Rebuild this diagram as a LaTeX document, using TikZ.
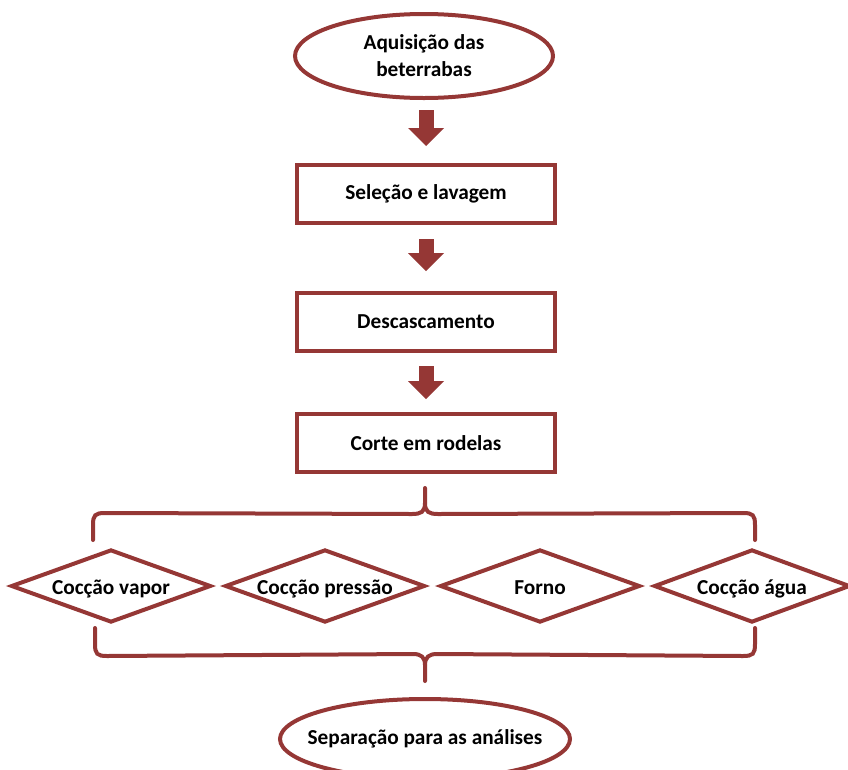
\documentclass[tikz,border=0pt]{standalone}
\usepackage{fontspec}
\setmainfont{Carlito}
\usetikzlibrary{shapes.geometric,arrows.meta,calc}
\definecolor{brd}{RGB}{149,55,53}
\begin{document}
\begin{tikzpicture}[x=1pt,y=-1pt,
  every node/.style={font=\fontsize{21.3}{27}\selectfont\bfseries, text=black},
  ellbox/.style={draw=brd, line width=4pt, ellipse, inner sep=0pt, align=center},
  stepbox/.style={draw=brd, line width=4pt, rectangle, minimum width=258pt, minimum height=58pt, inner sep=0pt},
  dmd/.style={draw=brd, line width=4pt, diamond, shape aspect=2.74, inner sep=0pt, text height=16pt, text depth=0pt, minimum width=200pt, minimum height=73pt},
  blockarrow/.style={draw=brd, line width=15pt, -{Triangle[width=36pt,length=18pt,line width=0pt 0]}},
  bracel/.style={draw=brd, line width=4pt, line cap=round}
]
\useasboundingbox (0,0) rectangle (848,769);
\node[ellbox, minimum width=258pt, minimum height=84pt] (e1) at (424,56) {Aquisição das\\beterrabas};
\node[stepbox] (b1) at (426,194) {Seleção e lavagem};
\node[stepbox] (b2) at (426,322) {Descascamento};
\node[stepbox] (b3) at (426,443) {Corte em rodelas};
\node[dmd] (d1) at (111,586) {Cocção vapor};
\node[dmd] (d2) at (325,586) {Cocção pressão};
\node[dmd] (d3) at (540,586) {Forno};
\node[dmd, minimum width=196pt] (d4) at (752,586) {Cocção água};
\node[ellbox, inner xsep=-30pt, text height=12pt, text depth=2pt, minimum width=290pt, minimum height=80pt] (e2) at (425,739) {Separação para as análises};

\draw[blockarrow, shorten <=10pt, shorten >=17pt] (e1.south -| b1.north) -- (b1.north);
\draw[blockarrow, shorten <=14pt, shorten >=20pt] (b1.south) -- (b2.north);
\draw[blockarrow, shorten <=13pt, shorten >=13pt] (b2.south) -- (b3.north);

% top brace
\coordinate (tt) at ($(b3.south)+(-1,14)$);
\coordinate (tl) at (93,540);
\coordinate (tr) at (755,540);
\draw[bracel] (tl) -- ++(0,-15) .. controls ++(0,-10) and ++(-10,0) .. ++(12,-12) -- ($(tt)+(-13,26)$) .. controls ++(9,0) and ++(0,9) .. ($(tt)+(0,15)$) -- (tt);
\draw[bracel] ($(tt)+(0,15)$) .. controls ++(0,9) and ++(-9,0) .. ($(tt)+(13,26)$) -- ($(tr)+(-12,-27)$) .. controls ++(10,0) and ++(0,-10) .. ($(tr)+(0,-15)$) -- (tr);

% bottom brace
\coordinate (bt) at ($(e2.north)+(0,-16)$);
\coordinate (bl) at (95,628);
\coordinate (br) at (755,628);
\draw[bracel] (bl) -- ++(0,16) .. controls ++(0,10) and ++(-10,0) .. ++(12,12) -- ($(bt)+(-12,-27)$) .. controls ++(8,0) and ++(0,-8) .. ($(bt)+(0,-16)$) -- (bt);
\draw[bracel] ($(bt)+(0,-16)$) .. controls ++(0,-8) and ++(-8,0) .. ($(bt)+(12,-27)$) -- ($(br)+(-12,28)$) .. controls ++(10,0) and ++(0,10) .. ($(br)+(0,16)$) -- (br);
\end{tikzpicture}
\end{document}
